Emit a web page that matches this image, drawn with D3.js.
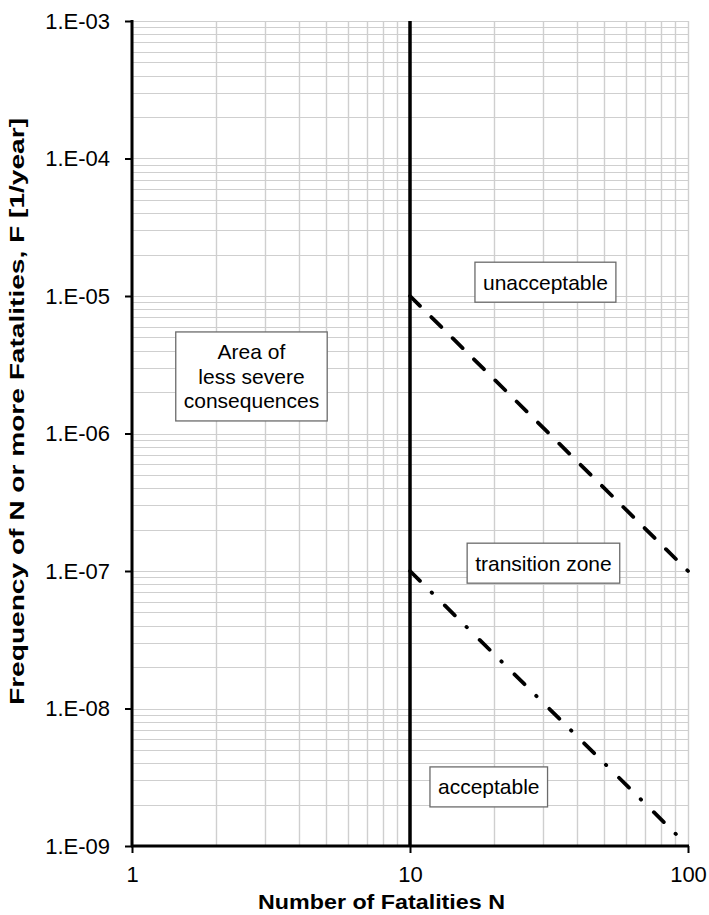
<!DOCTYPE html>
<html>
<head>
<meta charset="utf-8">
<script src="https://cdn.jsdelivr.net/npm/d3@7"></script>
<style>
  html, body { margin: 0; padding: 0; background: #fff; }
  svg { display: block; }
  text { font-family: "Liberation Sans", Arial, sans-serif; }
</style>
</head>
<body>
<svg id="chart" width="709" height="915"></svg>
<script>
// ---- data ----
const xDomain = [1, 100];
const yDomain = [1e-9, 1e-3];
const xTickValues = [1, 10, 100];
const xTickLabels = ["1", "10", "100"];
const yTickValues = [1e-9, 1e-8, 1e-7, 1e-6, 1e-5, 1e-4, 1e-3];
const yTickLabels = ["1.E-09", "1.E-08", "1.E-07", "1.E-06", "1.E-05", "1.E-04", "1.E-03"];

const limitN = [10, 10];
const limitF = [1e-9, 1e-3];
const upperN = [10, 100];
const upperF = [1e-5, 1e-7];
const lowerN = [10, 100];
const lowerF = [1e-7, 1e-9];

const noteTexts = [["unacceptable"], ["Area of", "less severe", "consequences"], ["transition zone"], ["acceptable"]];
const noteN = [30.7, 2.69, 30.2, 19.2];
const noteF = [1.26e-5, 2.6e-6, 1.14e-7, 2.69e-9];

const xTitle = "Number of Fatalities  N";
const yTitle = "Frequency of N or more Fatalities, F [1/year]";

// ---- layout ----
const svg = d3.select("#chart");
const L = 132, R = 688, T = 21, B = 846;
const x = d3.scaleLog().domain(xDomain).range([L, R]);
const y = d3.scaleLog().domain(yDomain).range([B, T]);

// minor + major grid values
const xGrid = [];
for (let d = 1; d < 100; d *= 10) for (let k = 1; k <= 9; k++) xGrid.push(d * k);
xGrid.push(100);
const yGrid = [];
for (let e = -9; e < -3; e++) for (let k = 1; k <= 9; k++) yGrid.push(k * Math.pow(10, e));
yGrid.push(1e-3);

const grid = svg.append("g");
grid.selectAll("line.gy").data(yGrid).join("line")
  .attr("x1", L).attr("x2", R)
  .attr("y1", d => Math.round(y(d)) + 0.5).attr("y2", d => Math.round(y(d)) + 0.5)
  .attr("stroke", "#cfcfcf").attr("stroke-width", 1.2);
grid.selectAll("line.gx").data(xGrid).join("line")
  .attr("y1", T).attr("y2", B)
  .attr("x1", d => Math.round(x(d)) + 0.5).attr("x2", d => Math.round(x(d)) + 0.5)
  .attr("stroke", "#cfcfcf").attr("stroke-width", 1.4);

// axes
const yAxis = d3.axisLeft(y).tickValues(yTickValues)
  .tickFormat((d, i) => yTickLabels[i]).tickSize(7).tickPadding(15);
const gy = svg.append("g").attr("transform", `translate(${L},0)`).call(yAxis);
gy.select(".domain").remove();
gy.selectAll(".tick line").attr("stroke", "#000").attr("stroke-width", 2);
gy.selectAll(".tick text").attr("font-size", 22).attr("fill", "#000")
  .style("font-family", "'Liberation Sans', Arial, sans-serif");

const xAxis = d3.axisBottom(x).tickValues(xTickValues)
  .tickFormat((d, i) => xTickLabels[i]).tickSize(7).tickPadding(13);
const gx = svg.append("g").attr("transform", `translate(0,${B})`).call(xAxis);
gx.select(".domain").remove();
gx.selectAll(".tick line").attr("stroke", "#000").attr("stroke-width", 2);
gx.selectAll(".tick text").attr("font-size", 22).attr("fill", "#000")
  .style("font-family", "'Liberation Sans', Arial, sans-serif");

// axis lines
svg.append("line").attr("x1", L).attr("x2", L).attr("y1", T - 1).attr("y2", B + 1)
  .attr("stroke", "#000").attr("stroke-width", 3);
svg.append("line").attr("x1", L - 1).attr("x2", R + 1).attr("y1", B).attr("y2", B)
  .attr("stroke", "#000").attr("stroke-width", 3);

// series
const line = d3.line().x(d => x(d[0])).y(d => y(d[1]));
svg.append("path").datum(limitN.map((n, i) => [n, limitF[i]]))
  .attr("d", line).attr("fill", "none").attr("stroke", "#000").attr("stroke-width", 3.5);
svg.append("path").datum(upperN.map((n, i) => [n, upperF[i]]))
  .attr("d", line).attr("fill", "none").attr("stroke", "#000").attr("stroke-width", 3.8)
  .attr("stroke-linecap", "round").attr("stroke-dasharray", "14,16");
svg.append("path").datum(lowerN.map((n, i) => [n, lowerF[i]]))
  .attr("d", line).attr("fill", "none").attr("stroke", "#000").attr("stroke-width", 3.8)
  .attr("stroke-linecap", "round").attr("stroke-dasharray", "14,16.5,0.5,18");

// annotation boxes
const lineH = 24.5;
noteTexts.forEach((lines, i) => {
  const cx = x(noteN[i]), cy = y(noteF[i]);
  const g = svg.append("g");
  const rect = g.append("rect");
  const t = g.append("text").attr("text-anchor", "middle").attr("font-size", 21).attr("fill", "#000");
  const n = lines.length;
  lines.forEach((s, j) => {
    t.append("tspan").attr("x", cx)
      .attr("y", cy + (j - (n - 1) / 2) * lineH + 7.5).text(s);
  });
  const bb = t.node().getBBox();
  const w = bb.width + 16, h = n * lineH + 15.5;
  rect.attr("x", cx - w / 2).attr("y", cy - h / 2).attr("width", w).attr("height", h)
    .attr("fill", "#fff").attr("stroke", "#6b6b6b").attr("stroke-width", 1.3);
});

// titles
svg.append("text").attr("x", 381.5).attr("y", 909).attr("text-anchor", "middle")
  .attr("font-size", 19.5).attr("font-weight", "bold").attr("fill", "#000")
  .attr("textLength", 247).attr("lengthAdjust", "spacingAndGlyphs").text(xTitle);
svg.append("text").attr("transform", "translate(24,411.5) rotate(-90)")
  .attr("text-anchor", "middle")
  .attr("font-size", 20).attr("font-weight", "bold").attr("fill", "#000")
  .attr("textLength", 587).attr("lengthAdjust", "spacingAndGlyphs").text(yTitle);
</script>
</body>
</html>
